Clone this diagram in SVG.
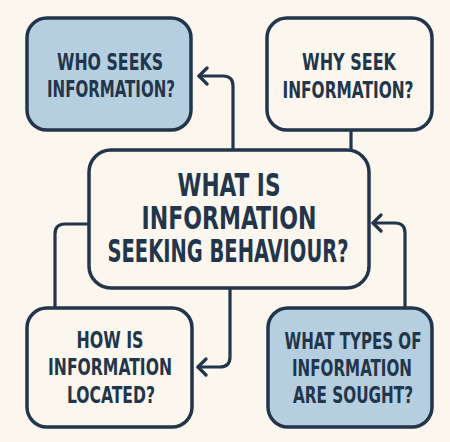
<svg xmlns="http://www.w3.org/2000/svg" width="450" height="442" viewBox="0 0 450 442">
<defs>
<style>
.box{stroke:#22354a;stroke-width:3.5}
.blue{fill:#b5cfe0}
.plain{fill:#fcf7ee}
.t{font-family:"Liberation Sans Narrow","DejaVu Sans Condensed","DejaVu Sans",sans-serif;font-weight:bold;fill:#22354a;text-anchor:middle}
.s{font-size:23px}
.b{font-size:31.5px}
.c{fill:none;stroke:#22354a;stroke-width:3.2;stroke-linecap:round;stroke-linejoin:round}
</style>
<marker id="arr" markerUnits="userSpaceOnUse" markerWidth="20" markerHeight="20" viewBox="-12 -10 14 20" refX="0" refY="0" orient="auto">
<path d="M-8,-8 L0,0 L-8,8" fill="none" stroke="#22354a" stroke-width="3.2" stroke-linecap="round" stroke-linejoin="round"/>
</marker>
</defs>
<rect width="450" height="442" fill="#fcf7ee"/>
<g id="connectors">
<path class="c" d="M233,150 V86 Q233,76 223,76 H199" marker-end="url(#arr)"/>
<path class="c" d="M351,130 V150"/>
<path class="c" d="M89,224 H65 Q55,224 55,234 V308"/>
<path class="c" d="M230,288 V357 Q230,367 220,367 H198" marker-end="url(#arr)"/>
<path class="c" d="M405,308 V233 Q405,223 395,223 H373" marker-end="url(#arr)"/>
</g>
<g id="who">
<rect class="box blue" x="27" y="18" width="164" height="112" rx="20"/>
<text class="t s" x="110" y="70" textLength="106" lengthAdjust="spacingAndGlyphs">WHO SEEKS</text>
<text class="t s" x="111" y="97" textLength="128" lengthAdjust="spacingAndGlyphs">INFORMATION?</text>
</g>
<g id="why">
<rect class="box plain" x="267" y="18" width="165" height="112" rx="20"/>
<text class="t s" x="349" y="70" textLength="94" lengthAdjust="spacingAndGlyphs">WHY SEEK</text>
<text class="t s" x="348" y="98" textLength="131" lengthAdjust="spacingAndGlyphs">INFORMATION?</text>
</g>
<g id="center">
<rect class="box plain" x="89" y="150" width="280" height="138" rx="22"/>
<text class="t b" x="229" y="196" textLength="103" lengthAdjust="spacingAndGlyphs">WHAT IS</text>
<text class="t b" x="229" y="229" textLength="175" lengthAdjust="spacingAndGlyphs">INFORMATION</text>
<text class="t b" x="228" y="262" textLength="241" lengthAdjust="spacingAndGlyphs">SEEKING BEHAVIOUR?</text>
</g>
<g id="how">
<rect class="box plain" x="27" y="308" width="165" height="119" rx="20"/>
<text class="t s" x="110" y="348" textLength="67" lengthAdjust="spacingAndGlyphs">HOW IS</text>
<text class="t s" x="110" y="375" textLength="124" lengthAdjust="spacingAndGlyphs">INFORMATION</text>
<text class="t s" x="111" y="403" textLength="88" lengthAdjust="spacingAndGlyphs">LOCATED?</text>
</g>
<g id="types">
<rect class="box blue" x="268" y="308" width="164" height="119" rx="20"/>
<text class="t s" x="353" y="349" textLength="137" lengthAdjust="spacingAndGlyphs">WHAT TYPES OF</text>
<text class="t s" x="352" y="376" textLength="120" lengthAdjust="spacingAndGlyphs">INFORMATION</text>
<text class="t s" x="353" y="403" textLength="120" lengthAdjust="spacingAndGlyphs">ARE SOUGHT?</text>
</g>
</svg>
